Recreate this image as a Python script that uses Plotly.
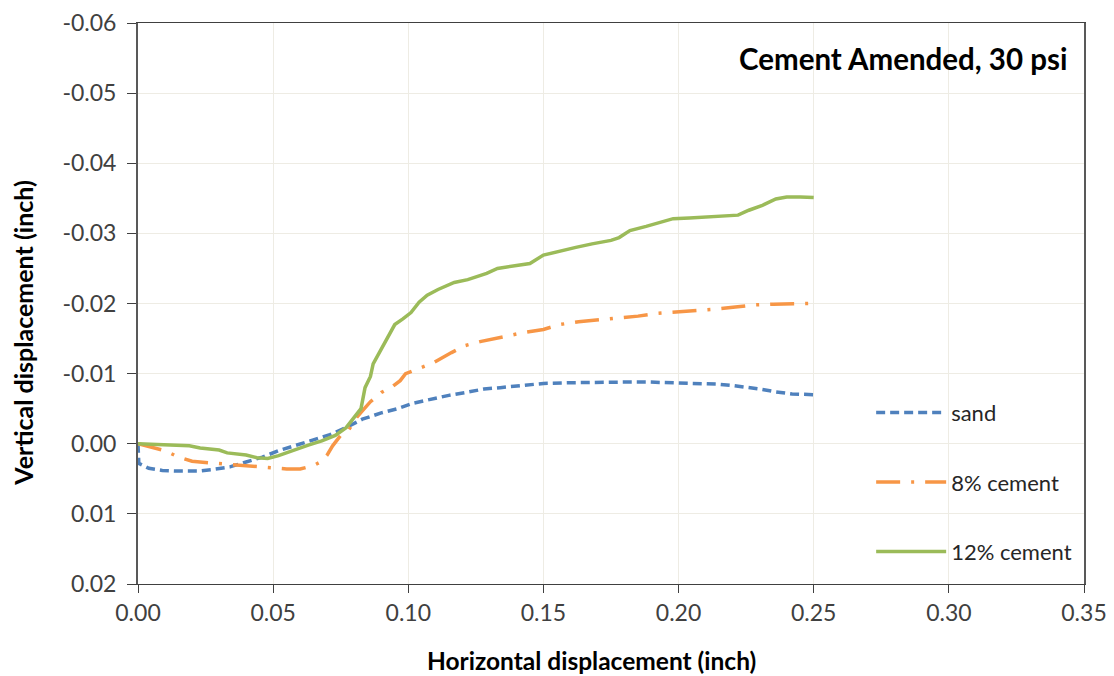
import plotly.graph_objects as go

# ---- data ----
sand_x = [0.000, 0.0003, 0.004, 0.009, 0.015, 0.022, 0.027, 0.034, 0.040, 0.046, 0.052, 0.058,
          0.065, 0.071, 0.077, 0.083, 0.090, 0.096, 0.102, 0.109, 0.115, 0.121, 0.128, 0.134,
          0.141, 0.150, 0.160, 0.171, 0.180, 0.189, 0.200, 0.207, 0.214, 0.220, 0.225, 0.230,
          0.236, 0.242, 0.250]
sand_y = [0.0000, 0.0028, 0.0035, 0.0038, 0.0039, 0.0039, 0.0037, 0.0033, 0.0026, 0.0019, 0.0010, 0.0003,
          -0.0005, -0.0013, -0.0023, -0.0035, -0.0044, -0.0050, -0.0058, -0.0064, -0.0069, -0.0073, -0.0078, -0.0080,
          -0.0083, -0.0086, -0.0087, -0.0088, -0.0088, -0.0088, -0.0087, -0.0086, -0.0085, -0.0083, -0.0081, -0.0078,
          -0.0074, -0.0071, -0.0070]

c8_x = [0.000, 0.005, 0.010, 0.015, 0.020, 0.026, 0.033, 0.040, 0.048, 0.055, 0.060, 0.065,
        0.068, 0.070, 0.072, 0.075, 0.078, 0.081, 0.083, 0.086, 0.090, 0.094, 0.097, 0.099,
        0.103, 0.109, 0.116, 0.121, 0.127, 0.135, 0.142, 0.150, 0.156, 0.163, 0.171, 0.178,
        0.185, 0.192, 0.200, 0.207, 0.214, 0.221, 0.228, 0.235, 0.242, 0.249]
c8_y = [0.0000, 0.0005, 0.0010, 0.0019, 0.0025, 0.0027, 0.0029, 0.0032, 0.0034, 0.0036, 0.0036, 0.0031,
        0.0025, 0.0016, 0.0003, -0.0012, -0.0020, -0.0038, -0.0047, -0.0060, -0.0073, -0.0081, -0.0090, -0.0100,
        -0.0106, -0.0115, -0.0130, -0.0140, -0.0146, -0.0153, -0.0158, -0.0163, -0.0170, -0.0174, -0.0177, -0.0180,
        -0.0182, -0.0186, -0.0188, -0.0190, -0.0192, -0.0195, -0.0198, -0.0199, -0.0199, -0.0200]

c12_x = [0.000, 0.009, 0.019, 0.023, 0.030, 0.033, 0.040, 0.044, 0.048, 0.052, 0.057, 0.063,
         0.068, 0.073, 0.077, 0.080, 0.0825, 0.084, 0.086, 0.087, 0.089, 0.092, 0.095, 0.098,
         0.101, 0.104, 0.107, 0.111, 0.117, 0.122, 0.129, 0.133, 0.139, 0.145, 0.150, 0.155,
         0.162, 0.168, 0.175, 0.178, 0.182, 0.188, 0.193, 0.198, 0.204, 0.209, 0.214, 0.222,
         0.226, 0.231, 0.236, 0.240, 0.245, 0.250]
c12_y = [0.0000, 0.0001, 0.0003, 0.0006, 0.0009, 0.0013, 0.0016, 0.0020, 0.0021, 0.0017, 0.0010, 0.0002,
         -0.0004, -0.0012, -0.0023, -0.0037, -0.0050, -0.0080, -0.0096, -0.0114, -0.0128, -0.0150, -0.0170, -0.0178,
         -0.0187, -0.0202, -0.0212, -0.0220, -0.0230, -0.0234, -0.0243, -0.0250, -0.0253, -0.0257, -0.0269, -0.0274,
         -0.0280, -0.0285, -0.0290, -0.0294, -0.0304, -0.0310, -0.0316, -0.0321, -0.0322, -0.0323, -0.0325, -0.0326,
         -0.0333, -0.0340, -0.0349, -0.0352, -0.0352, -0.0351]

series_names = ["sand", "8% cement", "12% cement"]

x_tickvals = [0.00, 0.05, 0.10, 0.15, 0.20, 0.25, 0.30, 0.35]
x_ticktext = ["0.00", "0.05", "0.10", "0.15", "0.20", "0.25", "0.30", "0.35"]
y_tickvals = [-0.06, -0.05, -0.04, -0.03, -0.02, -0.01, 0.00, 0.01, 0.02]
y_ticktext = ["-0.06", "-0.05", "-0.04", "-0.03", "-0.02", "-0.01", "0.00", "0.01", "0.02"]

title_text = "Cement Amended, 30 psi"
x_title = "Horizontal displacement (inch)"
y_title = "Vertical displacement (inch)"

# ---- styling ----
FONT = "Lato, 'Open Sans', sans-serif"
BLUE = "#4F81BD"
ORANGE = "#F79646"
GREEN = "#9BBB59"
GRID = "#EEECE4"
TXT = "#404040"

fig = go.Figure()
fig.add_trace(go.Scatter(x=sand_x, y=sand_y, mode="lines", name=series_names[0],
                         legendgroup="a",
                         line=dict(color=BLUE, width=3.5, dash="9px,5px")))
fig.add_trace(go.Scatter(x=c8_x, y=c8_y, mode="lines", name=series_names[1],
                         legendgroup="b",
                         line=dict(color=ORANGE, width=3.5, dash="24px,11px,3px,11px")))
fig.add_trace(go.Scatter(x=c12_x, y=c12_y, mode="lines", name=series_names[2],
                         legendgroup="c",
                         line=dict(color=GREEN, width=3.5)))

# the page body adds an 8px margin, so the figure is 8px smaller than the window
fig.update_layout(
    width=1106, height=668,
    margin=dict(l=130, r=30, t=15, b=92),
    paper_bgcolor="white", plot_bgcolor="white",
    font=dict(family=FONT, size=23, color=TXT),
    showlegend=True,
    legend=dict(x=0.775, y=0.343, xanchor="left", yanchor="top",
                bgcolor="rgba(0,0,0,0)", font=dict(size=22, color="#262626"),
                tracegroupgap=38, itemwidth=70),
    annotations=[
        dict(text="<b>" + title_text + "</b>", xref="paper", yref="paper",
             x=0.984, y=0.936, xanchor="right", yanchor="middle",
             showarrow=False, font=dict(size=29.5, color="black")),
        dict(text="<b>" + x_title + "</b>", xref="paper", yref="paper",
             x=0.479, y=-0.137, xanchor="center", yanchor="middle",
             showarrow=False, font=dict(size=24.5, color="black")),
        dict(text="<b>" + y_title + "</b>", xref="paper", yref="paper",
             x=-0.1216, y=0.448, xanchor="center", yanchor="middle", textangle=-90,
             showarrow=False, font=dict(size=25, color="black")),
    ],
)

fig.update_xaxes(
    range=[0, 0.35], tickvals=x_tickvals, ticktext=x_ticktext,
    showgrid=True, gridcolor=GRID, gridwidth=1,
    showline=True, linecolor="#404040", linewidth=1, mirror=True,
    ticks="outside", ticklen=8, tickcolor="#404040",
    zeroline=False, automargin=False, ticklabeloverflow="allow",
    tickfont=dict(size=23, color=TXT),
)
fig.update_yaxes(
    range=[0.02, -0.06], tickvals=y_tickvals, ticktext=y_ticktext,
    showgrid=True, gridcolor=GRID, gridwidth=1,
    showline=True, linecolor="#595959", linewidth=2, mirror=True,
    ticks="outside", ticklen=9, tickcolor="#404040",
    zeroline=False, automargin=False, ticklabelstandoff=6, ticklabeloverflow="allow",
    tickfont=dict(size=23, color=TXT),
)

fig.write_html("out.html")
